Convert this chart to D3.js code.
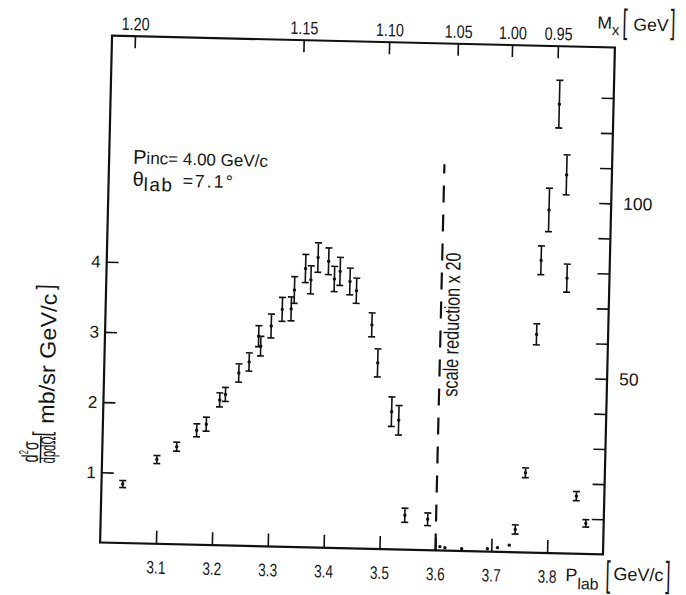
<!DOCTYPE html>
<html>
<head>
<meta charset="utf-8">
<script src="https://cdn.jsdelivr.net/npm/d3@7"></script>
<style>
  body { margin: 0; background: #fff; }
  svg { display: block; }
  text { fill: #161616; font-family: "Liberation Sans", Arial, sans-serif; }
</style>
</head>
<body>
<div id="chart"></div>
<script>
// P_lab [GeV/c] vs d2sigma/dp dOmega [mb/sr GeV/c], left scale
const pLeft = [3.038, 3.098, 3.133, 3.168, 3.185, 3.208, 3.218, 3.241, 3.259, 3.275, 3.279, 3.297, 3.316, 3.332, 3.337,
               3.356, 3.366, 3.378, 3.397, 3.408, 3.418, 3.436, 3.448, 3.477, 3.489, 3.516, 3.529, 3.544, 3.585];
const sigLeft = [0.84, 1.20, 1.39, 1.63, 1.72, 2.07, 2.15, 2.46, 2.62, 2.99, 2.85, 3.14, 3.38, 3.39, 3.66,
                 3.97, 3.81, 4.13, 4.08, 3.83, 3.94, 3.80, 3.67, 3.19, 2.65, 1.96, 1.84, 0.49, 0.44];
const errLeft = [0.05, 0.057, 0.064, 0.093, 0.10, 0.10, 0.10, 0.13, 0.13, 0.15, 0.14, 0.17, 0.17, 0.17, 0.19,
                 0.20, 0.20, 0.21, 0.19, 0.18, 0.20, 0.19, 0.18, 0.17, 0.20, 0.21, 0.21, 0.10, 0.09];

// right of the dashed line the scale is reduced x 20 (right hand axis)
const pRight = [3.608, 3.617, 3.647, 3.693, 3.711, 3.732, 3.742, 3.758, 3.772, 3.777, 3.789, 3.803, 3.819, 3.824, 3.850, 3.868];
const sigRight = [1.1, 0.8, 0.65, 0.8, 1.2, 2.0, 6.5, 22.7, 62.2, 83.3, 97.7, 127.9, 107.8, 78.4, 16.4, 8.7];
const errRight = [0, 0, 0, 0, 0, 0, 1.3, 1.4, 3.0, 4.1, 6.2, 6.8, 5.7, 4.0, 1.3, 1.05];

// axes
const pTicks = [3.1, 3.2, 3.3, 3.4, 3.5, 3.6, 3.7, 3.8];
const leftTicks = [1, 2, 3, 4];
const rightTicks = [10, 20, 30, 40, 50, 60, 70, 80, 90, 100, 110, 120, 130];
const rightLabels = [50, 100];
const mxLabels = ['1.20', '1.15', '1.10', '1.05', '1.00', '0.95'];
const mxAtP = [3.041, 3.343, 3.496, 3.619, 3.716, 3.798];   // where the M_x ticks sit on the P_lab scale
const pCut = 3.6;

const width = 686, height = 595;
const plotLeft = 106, plotRight = 609, plotTop = 41.5, plotBottom = 548.5;

var svg = d3.select('#chart')
  .append('svg')
  .attr('width', width)
  .attr('height', height);

// the scanned figure is slightly tilted
var g = svg.append('g')
  .attr('transform', 'rotate(1.35,' + (plotLeft + plotRight) / 2 + ',' + (plotTop + plotBottom) / 2 + ')');

var x = d3.scaleLinear().domain([3.0, 3.9]).range([plotLeft, plotRight]);
var yL = d3.scaleLinear().domain([0, 7.22]).range([plotBottom, plotTop]);
var yR = d3.scaleLinear().domain([0, 144.4]).range([plotBottom, plotTop]);

// frame
g.append('rect')
  .attr('x', plotLeft).attr('y', plotTop)
  .attr('width', plotRight - plotLeft).attr('height', plotBottom - plotTop)
  .attr('fill', 'none').attr('stroke', '#111').attr('stroke-width', 2.2);

function styleAxis(sel, size, len) {
  sel.select('.domain').remove();
  sel.attr('font-family', null).attr('font-size', null);
  sel.selectAll('line').attr('stroke', '#111').attr('stroke-width', 1.6);
  sel.selectAll('text').style('font-size', size + 'px').attr('fill', '#161616');
  if (len) sel.selectAll('text').attr('textLength', len).attr('lengthAdjust', 'spacingAndGlyphs');
}

g.append('g')
  .attr('transform', 'translate(0,' + plotBottom + ')')
  .call(d3.axisBottom(x).tickValues(pTicks).tickSize(-13).tickPadding(17).tickFormat(d3.format('.1f')))
  .call(styleAxis, 18, 19);

g.append('g')
  .attr('transform', 'translate(0,' + plotTop + ')')
  .call(d3.axisTop(x).tickValues(mxAtP).tickSize(-12).tickPadding(6).tickFormat(function(d, i) { return mxLabels[i]; }))
  .call(styleAxis, 18, 28);

g.append('g')
  .attr('transform', 'translate(' + plotLeft + ',0)')
  .call(d3.axisLeft(yL).tickValues(leftTicks).tickSize(-12).tickPadding(6))
  .call(styleAxis, 17);

g.append('g')
  .attr('transform', 'translate(' + plotRight + ',0)')
  .call(d3.axisRight(yR).tickValues(rightTicks).tickSize(-12).tickPadding(12)
        .tickFormat(function(d) { return rightLabels.includes(d) ? d : ''; }))
  .call(styleAxis, 17.5);

// dashed line where the scale changes
g.append('line')
  .attr('x1', x(pCut)).attr('x2', x(pCut))
  .attr('y1', yL(0)).attr('y2', yL(5.5))
  .attr('stroke', '#111').attr('stroke-width', 2.2)
  .attr('stroke-dasharray', '17,12');

g.append('text')
  .attr('transform', 'translate(' + (x(3.622) + 6) + ',' + yL(3.22) + ') rotate(-90)')
  .attr('text-anchor', 'middle')
  .attr('textLength', 144).attr('lengthAdjust', 'spacingAndGlyphs')
  .style('font-size', '21px')
  .text('scale reduction  x 20');

// error bars with a dot in the middle
function drawPoints(ps, vs, es, yScale) {
  var pts = g.append('g').selectAll('g')
    .data(ps.map(function(p, i) { return {p: p, v: vs[i], e: es[i]}; }))
    .enter()
    .append('g')
    .attr('stroke', '#111')
    .attr('stroke-width', 1.6);

  pts.filter(function(d) { return d.e > 0; })
    .append('path')
    .attr('fill', 'none')
    .attr('d', function(d) {
      var px = x(d.p), y1 = yScale(d.v + d.e), y2 = yScale(d.v - d.e);
      return 'M' + (px - 3.5) + ',' + y1 + 'H' + (px + 3.5) + 'M' + px + ',' + y1 + 'V' + y2 +
             'M' + (px - 3.5) + ',' + y2 + 'H' + (px + 3.5);
    });

  pts.append('circle')
    .attr('cx', function(d) { return x(d.p); })
    .attr('cy', function(d) { return yScale(d.v); })
    .attr('r', 1.7)
    .attr('fill', '#111')
    .attr('stroke', 'none');
}

drawPoints(pLeft, sigLeft, errLeft, yL);
drawPoints(pRight, sigRight, errRight, yR);

// tall thin square brackets: a normal glyph stretched vertically
function bracket(parent, ch, bx, yTop, yBot) {
  var k = (yBot - yTop) / 17;
  parent.append('text')
    .attr('transform', 'translate(' + bx + ',' + (yBot - 3.8 * k) + ') scale(1,' + k + ')')
    .style('font-size', '18px')
    .text(ch);
}

// annotations
var ann = g.append('text').attr('x', 130).attr('y', 169).style('font-size', '17px');
ann.append('tspan').style('font-size', '20px').text('P');
ann.append('tspan').text('inc= 4.00 GeV/c');

var th = g.append('text').attr('x', 130).attr('y', 191).style('font-size', '18px');
th.append('tspan').style('font-size', '20px').text('θ');
th.append('tspan').attr('dy', 5).style('font-size', '19px').style('letter-spacing', '1.5px').text('lab');
th.append('tspan').attr('dy', -5).attr('x', 180).text('=');
th.append('tspan').attr('x', 192).style('letter-spacing', '2px').text('7.1°');

// top axis title
var mx = g.append('text').attr('x', 591).attr('y', 23).style('font-size', '17.5px');
mx.append('tspan').text('M');
mx.append('tspan').attr('dy', 6).style('font-size', '15px').text('x');
bracket(g, '[', 616, 2, 34);
g.append('text').attr('x', 627).attr('y', 24).style('font-size', '17.5px').text('GeV');
bracket(g, ']', 664, 1, 33);

// bottom axis title
var pl = g.append('text').attr('x', 572).attr('y', 576).style('font-size', '18px');
pl.append('tspan').text('P');
pl.append('tspan').attr('dy', 8).style('font-size', '16px').text('lab');
bracket(g, '[', 612, 554, 588);
g.append('text').attr('x', 620).attr('y', 574).style('font-size', '18px').text('GeV/c');
bracket(g, ']', 672, 553, 587);

// y axis title, a fraction followed by the units
var yt = g.append('g').attr('transform', 'translate(44.4,457) rotate(-90)');
var num = yt.append('text').attr('x', -13).attr('y', -2.5).attr('textLength', 21).attr('lengthAdjust', 'spacingAndGlyphs')
  .style('font-size', '23px');
num.append('tspan').text('d');
num.append('tspan').attr('dy', -10).style('font-size', '13px').text('2');
num.append('tspan').attr('dy', 10).text('σ');
yt.append('line').attr('x1', -13.5).attr('x2', 13.5).attr('y1', 0).attr('y2', 0)
  .attr('stroke', '#111').attr('stroke-width', 1.5);
yt.append('text').attr('x', -13.5).attr('y', 14.5).attr('textLength', 27).attr('lengthAdjust', 'spacingAndGlyphs')
  .style('font-size', '21px').text('dpdΩ');
bracket(yt, '[', 13, -9, 14.5);
yt.append('text').attr('x', 26).attr('y', 12.5).attr('textLength', 130).attr('lengthAdjust', 'spacingAndGlyphs')
  .style('font-size', '22px').text('mb/sr GeV/c');
bracket(yt, ']', 160, -9, 14.5);
</script>
</body>
</html>
